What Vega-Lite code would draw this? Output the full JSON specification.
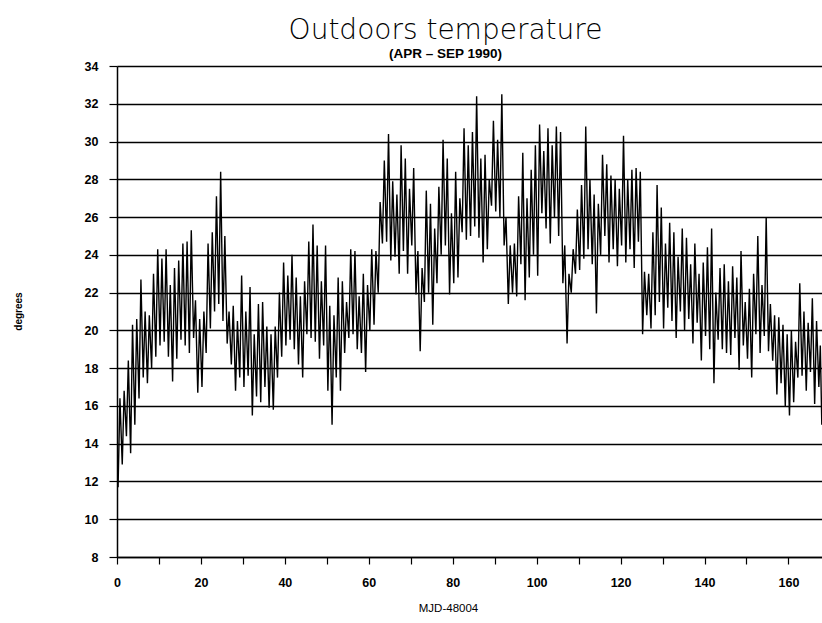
{
  "$schema": "https://vega.github.io/schema/vega-lite/v6.json",
  "autosize": "none",
  "width": 705,
  "height": 491,
  "padding": {"left": 117, "top": 66, "right": 0, "bottom": 66},
  "background": "white",
  "title": {
    "text": "Outdoors temperature",
    "subtitle": "(APR – SEP 1990)",
    "font": "DejaVu Sans",
    "fontSize": 28,
    "fontWeight": 200,
    "color": "black",
    "subtitleFont": "Liberation Sans",
    "subtitleFontSize": 13.5,
    "subtitleFontWeight": "bold",
    "subtitleColor": "black",
    "subtitlePadding": 2,
    "offset": 0,
    "anchor": "middle",
    "dx": -24
  },
  "config": {
    "view": {"stroke": null},
    "axis": {
      "labelFont": "Liberation Sans",
      "labelFontWeight": "bold",
      "labelFontSize": 12.5,
      "labelColor": "black",
      "titleFont": "Liberation Sans",
      "titleColor": "black",
      "tickColor": "black",
      "domainColor": "black",
      "gridColor": "black"
    }
  },
  "data": {"values": [
    {"t":0.0,"v":13.0},{"t":0.25,"v":11.7},{"t":0.7,"v":16.4},
    {"t":1.25,"v":12.9},{"t":1.7,"v":16.8},
    {"t":2.25,"v":14.4},{"t":2.7,"v":18.4},
    {"t":3.25,"v":13.5},{"t":3.7,"v":20.3},
    {"t":4.25,"v":15.0},{"t":4.7,"v":20.6},
    {"t":5.25,"v":16.4},{"t":5.7,"v":22.7},
    {"t":6.25,"v":17.5},{"t":6.7,"v":21.0},
    {"t":7.25,"v":17.2},{"t":7.7,"v":20.8},
    {"t":8.25,"v":18.0},{"t":8.7,"v":23.0},
    {"t":9.25,"v":18.6},{"t":9.7,"v":24.3},
    {"t":10.25,"v":19.2},{"t":10.7,"v":23.8},
    {"t":11.25,"v":19.4},{"t":11.7,"v":24.3},
    {"t":12.25,"v":18.6},{"t":12.7,"v":22.4},
    {"t":13.25,"v":17.3},{"t":13.7,"v":23.3},
    {"t":14.25,"v":18.5},{"t":14.7,"v":23.7},
    {"t":15.25,"v":19.5},{"t":15.7,"v":24.6},
    {"t":16.25,"v":19.2},{"t":16.7,"v":24.7},
    {"t":17.25,"v":18.8},{"t":17.7,"v":25.3},
    {"t":18.25,"v":19.6},{"t":18.7,"v":21.6},
    {"t":19.25,"v":16.7},{"t":19.7,"v":20.6},
    {"t":20.25,"v":17.0},{"t":20.7,"v":21.0},
    {"t":21.25,"v":18.8},{"t":21.7,"v":24.6},
    {"t":22.25,"v":20.1},{"t":22.7,"v":25.2},
    {"t":23.25,"v":21.0},{"t":23.7,"v":27.1},
    {"t":24.25,"v":21.4},{"t":24.7,"v":28.4},
    {"t":25.25,"v":20.5},{"t":25.7,"v":25.0},
    {"t":26.25,"v":19.3},{"t":26.7,"v":21.0},
    {"t":27.25,"v":18.2},{"t":27.7,"v":21.3},
    {"t":28.25,"v":16.8},{"t":28.7,"v":20.5},
    {"t":29.25,"v":17.5},{"t":29.7,"v":22.9},
    {"t":30.25,"v":17.0},{"t":30.7,"v":21.0},
    {"t":31.25,"v":17.6},{"t":31.7,"v":22.3},
    {"t":32.25,"v":15.5},{"t":32.7,"v":19.8},
    {"t":33.25,"v":16.5},{"t":33.7,"v":21.4},
    {"t":34.25,"v":16.2},{"t":34.7,"v":21.5},
    {"t":35.25,"v":17.0},{"t":35.7,"v":20.2},
    {"t":36.25,"v":15.9},{"t":36.7,"v":19.8},
    {"t":37.25,"v":15.8},{"t":37.7,"v":20.2},
    {"t":38.25,"v":17.5},{"t":38.7,"v":22.0},
    {"t":39.25,"v":18.6},{"t":39.7,"v":23.6},
    {"t":40.25,"v":19.2},{"t":40.7,"v":22.9},
    {"t":41.25,"v":19.5},{"t":41.7,"v":24.0},
    {"t":42.25,"v":19.0},{"t":42.7,"v":22.8},
    {"t":43.25,"v":18.2},{"t":43.7,"v":21.8},
    {"t":44.25,"v":17.5},{"t":44.7,"v":22.6},
    {"t":45.25,"v":19.8},{"t":45.7,"v":24.7},
    {"t":46.25,"v":19.6},{"t":46.7,"v":25.6},
    {"t":47.25,"v":19.4},{"t":47.7,"v":24.5},
    {"t":48.25,"v":18.5},{"t":48.7,"v":22.6},
    {"t":49.25,"v":19.2},{"t":49.7,"v":24.5},
    {"t":50.25,"v":16.8},{"t":50.7,"v":21.3},
    {"t":51.25,"v":15.0},{"t":51.7,"v":20.8},
    {"t":52.25,"v":17.5},{"t":52.7,"v":22.8},
    {"t":53.25,"v":16.8},{"t":53.7,"v":22.6},
    {"t":54.25,"v":18.8},{"t":54.7,"v":21.5},
    {"t":55.25,"v":19.6},{"t":55.7,"v":24.3},
    {"t":56.25,"v":19.8},{"t":56.7,"v":24.2},
    {"t":57.25,"v":19.0},{"t":57.7,"v":21.8},
    {"t":58.25,"v":18.8},{"t":58.7,"v":23.0},
    {"t":59.25,"v":17.8},{"t":59.7,"v":22.4},
    {"t":60.25,"v":20.0},{"t":60.7,"v":24.3},
    {"t":61.25,"v":20.3},{"t":61.7,"v":24.2},
    {"t":62.25,"v":22.0},{"t":62.7,"v":26.8},
    {"t":63.25,"v":24.6},{"t":63.7,"v":29.0},
    {"t":64.25,"v":24.7},{"t":64.7,"v":30.4},
    {"t":65.25,"v":23.7},{"t":65.7,"v":27.9},
    {"t":66.25,"v":23.9},{"t":66.7,"v":27.2},
    {"t":67.25,"v":23.0},{"t":67.7,"v":29.8},
    {"t":68.25,"v":24.2},{"t":68.7,"v":29.1},
    {"t":69.25,"v":23.0},{"t":69.7,"v":27.5},
    {"t":70.25,"v":24.5},{"t":70.7,"v":28.6},
    {"t":71.25,"v":21.9},{"t":71.7,"v":24.2},
    {"t":72.25,"v":18.9},{"t":72.7,"v":23.3},
    {"t":73.25,"v":21.5},{"t":73.7,"v":27.4},
    {"t":74.25,"v":22.0},{"t":74.7,"v":26.7},
    {"t":75.25,"v":20.3},{"t":75.7,"v":25.4},
    {"t":76.25,"v":22.5},{"t":76.7,"v":27.6},
    {"t":77.25,"v":24.0},{"t":77.7,"v":30.1},
    {"t":78.25,"v":24.5},{"t":78.7,"v":29.1},
    {"t":79.25,"v":21.9},{"t":79.7,"v":26.2},
    {"t":80.25,"v":22.5},{"t":80.7,"v":28.4},
    {"t":81.25,"v":22.8},{"t":81.7,"v":27.0},
    {"t":82.25,"v":25.2},{"t":82.7,"v":30.7},
    {"t":83.25,"v":24.8},{"t":83.7,"v":29.8},
    {"t":84.25,"v":25.0},{"t":84.7,"v":30.5},
    {"t":85.25,"v":25.5},{"t":85.7,"v":32.4},
    {"t":86.25,"v":24.9},{"t":86.7,"v":29.1},
    {"t":87.25,"v":23.6},{"t":87.7,"v":29.3},
    {"t":88.25,"v":24.3},{"t":88.7,"v":28.0},
    {"t":89.25,"v":26.6},{"t":89.7,"v":31.1},
    {"t":90.25,"v":26.3},{"t":90.7,"v":30.1},
    {"t":91.25,"v":26.0},{"t":91.7,"v":32.5},
    {"t":92.25,"v":24.5},{"t":92.7,"v":26.0},
    {"t":93.25,"v":21.4},{"t":93.7,"v":24.5},
    {"t":94.25,"v":22.0},{"t":94.7,"v":24.6},
    {"t":95.25,"v":21.8},{"t":95.7,"v":27.1},
    {"t":96.25,"v":23.5},{"t":96.7,"v":29.4},
    {"t":97.25,"v":21.6},{"t":97.7,"v":27.0},
    {"t":98.25,"v":22.8},{"t":98.7,"v":28.5},
    {"t":99.25,"v":24.0},{"t":99.7,"v":29.8},
    {"t":100.25,"v":22.9},{"t":100.7,"v":30.9},
    {"t":101.25,"v":26.2},{"t":101.7,"v":29.5},
    {"t":102.25,"v":25.4},{"t":102.7,"v":30.7},
    {"t":103.25,"v":24.6},{"t":103.7,"v":29.8},
    {"t":104.25,"v":26.0},{"t":104.7,"v":30.8},
    {"t":105.25,"v":25.0},{"t":105.7,"v":30.5},
    {"t":106.25,"v":22.5},{"t":106.7,"v":24.5},
    {"t":107.25,"v":19.3},{"t":107.7,"v":23.0},
    {"t":108.25,"v":22.0},{"t":108.7,"v":24.3},
    {"t":109.25,"v":23.0},{"t":109.7,"v":26.4},
    {"t":110.25,"v":23.2},{"t":110.7,"v":27.7},
    {"t":111.25,"v":23.8},{"t":111.7,"v":30.8},
    {"t":112.25,"v":24.3},{"t":112.7,"v":28.0},
    {"t":113.25,"v":23.5},{"t":113.7,"v":27.2},
    {"t":114.25,"v":20.9},{"t":114.7,"v":26.7},
    {"t":115.25,"v":24.0},{"t":115.7,"v":29.3},
    {"t":116.25,"v":25.0},{"t":116.7,"v":28.8},
    {"t":117.25,"v":23.6},{"t":117.7,"v":28.2},
    {"t":118.25,"v":24.3},{"t":118.7,"v":28.0},
    {"t":119.25,"v":23.4},{"t":119.7,"v":27.5},
    {"t":120.25,"v":24.5},{"t":120.7,"v":30.3},
    {"t":121.25,"v":23.6},{"t":121.7,"v":28.0},
    {"t":122.25,"v":24.3},{"t":122.7,"v":28.5},
    {"t":123.25,"v":23.3},{"t":123.7,"v":28.6},
    {"t":124.25,"v":24.7},{"t":124.7,"v":28.4},
    {"t":125.25,"v":19.8},{"t":125.7,"v":23.1},
    {"t":126.25,"v":20.8},{"t":126.7,"v":23.0},
    {"t":127.25,"v":20.1},{"t":127.7,"v":25.2},
    {"t":128.25,"v":20.8},{"t":128.7,"v":27.7},
    {"t":129.25,"v":21.5},{"t":129.7,"v":26.5},
    {"t":130.25,"v":20.1},{"t":130.7,"v":24.6},
    {"t":131.25,"v":21.2},{"t":131.7,"v":25.7},
    {"t":132.25,"v":20.5},{"t":132.7,"v":25.2},
    {"t":133.25,"v":19.6},{"t":133.7,"v":23.9},
    {"t":134.25,"v":21.0},{"t":134.7,"v":25.4},
    {"t":135.25,"v":20.0},{"t":135.7,"v":24.9},
    {"t":136.25,"v":20.6},{"t":136.7,"v":23.5},
    {"t":137.25,"v":19.3},{"t":137.7,"v":24.6},
    {"t":138.25,"v":20.4},{"t":138.7,"v":23.0},
    {"t":139.25,"v":18.4},{"t":139.7,"v":23.6},
    {"t":140.25,"v":19.7},{"t":140.7,"v":24.4},
    {"t":141.25,"v":19.0},{"t":141.7,"v":25.4},
    {"t":142.25,"v":17.2},{"t":142.7,"v":22.0},
    {"t":143.25,"v":19.5},{"t":143.7,"v":23.3},
    {"t":144.25,"v":19.0},{"t":144.7,"v":23.5},
    {"t":145.25,"v":18.8},{"t":145.7,"v":22.6},
    {"t":146.25,"v":18.7},{"t":146.7,"v":23.4},
    {"t":147.25,"v":19.6},{"t":147.7,"v":22.8},
    {"t":148.25,"v":17.9},{"t":148.7,"v":24.2},
    {"t":149.25,"v":19.2},{"t":149.7,"v":21.5},
    {"t":150.25,"v":18.5},{"t":150.7,"v":22.2},
    {"t":151.25,"v":17.5},{"t":151.7,"v":23.0},
    {"t":152.25,"v":19.8},{"t":152.7,"v":25.0},
    {"t":153.25,"v":18.8},{"t":153.7,"v":22.4},
    {"t":154.25,"v":19.7},{"t":154.7,"v":26.0},
    {"t":155.25,"v":18.9},{"t":155.7,"v":21.4},
    {"t":156.25,"v":18.4},{"t":156.7,"v":20.8},
    {"t":157.25,"v":16.6},{"t":157.7,"v":20.7},
    {"t":158.25,"v":17.2},{"t":158.7,"v":20.3},
    {"t":159.25,"v":16.0},{"t":159.7,"v":19.8},
    {"t":160.25,"v":15.5},{"t":160.7,"v":20.0},
    {"t":161.25,"v":16.2},{"t":161.7,"v":19.4},
    {"t":162.25,"v":17.5},{"t":162.7,"v":22.5},
    {"t":163.25,"v":17.6},{"t":163.7,"v":21.0},
    {"t":164.25,"v":16.8},{"t":164.7,"v":20.4},
    {"t":165.25,"v":17.8},{"t":165.7,"v":21.7},
    {"t":166.25,"v":16.1},{"t":166.7,"v":20.5},
    {"t":167.25,"v":17.0},{"t":167.6,"v":19.2},{"t":167.95,"v":15.0}
  ]},
  "mark": {"type": "line", "color": "black", "strokeWidth": 1.4, "clip": true},
  "encoding": {
    "x": {
      "field": "t",
      "type": "quantitative",
      "scale": {"domain": [0, 168], "nice": false, "zero": false},
      "axis": {
        "title": "MJD-48004",
        "titleFontSize": 11.5,
        "titleFontWeight": "normal",
        "titleX": 331,
        "titleY": 51,
        "titleBaseline": "middle",
        "values": [0,10,20,30,40,50,60,70,80,90,100,110,120,130,140,150,160],
        "labelExpr": "datum.value % 20 == 0 ? datum.label : ''",
        "grid": false,
        "domain": true,
        "domainWidth": 1.5,
        "tickSize": 7,
        "tickWidth": 1.2,
        "labelPadding": 12,
        "labelFlush": false
      }
    },
    "y": {
      "field": "v",
      "type": "quantitative",
      "scale": {"domain": [8, 34], "nice": false, "zero": false},
      "axis": {
        "title": "degrees",
        "titleFontSize": 10,
        "titleFontWeight": "bold",
        "titleX": -99,
        "titleY": 245,
        "titleAngle": -90,
        "titleAlign": "center",
        "titleBaseline": "middle",
        "values": [8,10,12,14,16,18,20,22,24,26,28,30,32,34],
        "grid": true,
        "gridWidth": 1.5,
        "gridOpacity": 1,
        "domain": true,
        "domainWidth": 1.5,
        "tickSize": 8,
        "tickWidth": 1.2,
        "labelPadding": 11,
        "labelFlush": false
      }
    }
  }
}
